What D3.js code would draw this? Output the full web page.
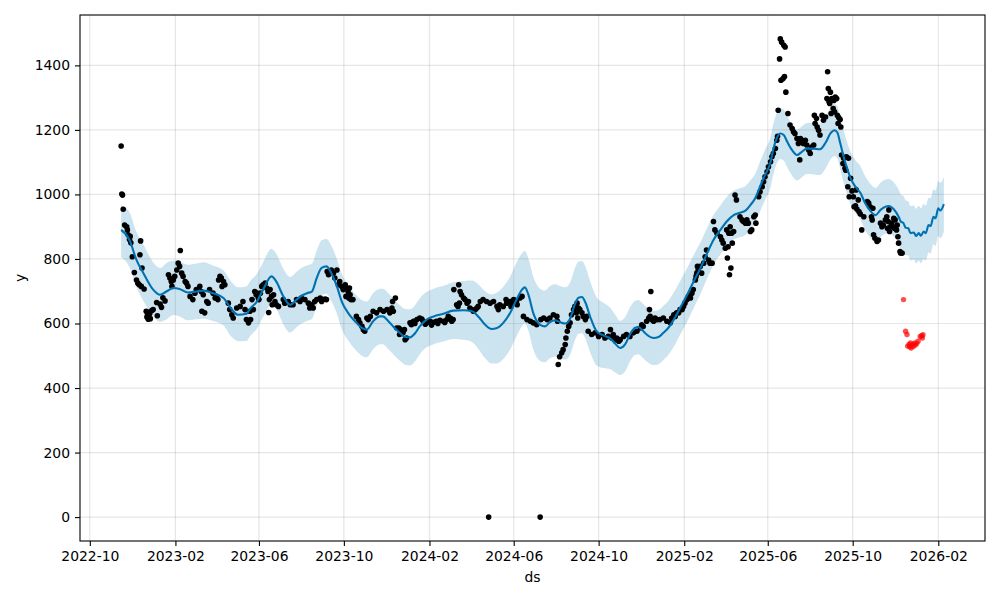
<!DOCTYPE html>
<html><head><meta charset="utf-8">
<script src="https://cdn.jsdelivr.net/npm/d3@7"></script>
<style>body{margin:0;background:#fff;} svg{display:block;font-family:"DejaVu Sans",sans-serif;}</style>
</head><body><svg id="chart" width="1000" height="600"></svg>
<script>
// ---- data ----
const xTickLabels = ["2022-10","2023-02","2023-06","2023-10","2024-02","2024-06","2024-10","2025-02","2025-06","2025-10","2026-02"];
const yTickValues = [0,200,400,600,800,1000,1200,1400];
const xLabel = "ds", yLabel = "y";

const fcDates = ["2022-11-15","2022-11-27","2022-12-07","2022-12-17","2022-12-31","2023-01-10","2023-01-19","2023-01-29","2023-02-07","2023-02-19","2023-03-03","2023-03-13","2023-03-27","2023-04-11","2023-04-23","2023-05-02","2023-05-14","2023-05-19","2023-05-29","2023-06-07","2023-06-19","2023-06-26","2023-07-06","2023-07-16","2023-07-25","2023-08-01","2023-08-09","2023-08-16","2023-08-23","2023-08-30","2023-09-06","2023-09-13","2023-09-21","2023-09-28","2023-10-07","2023-10-17","2023-10-27","2023-11-03","2023-11-12","2023-11-22","2023-11-26","2023-12-04","2023-12-13","2023-12-23","2023-12-28","2024-01-04","2024-01-11","2024-01-18","2024-01-28","2024-02-07","2024-02-21","2024-03-06","2024-03-21","2024-04-02","2024-04-11","2024-04-21","2024-04-30","2024-05-08","2024-05-17","2024-05-27","2024-06-05","2024-06-13","2024-06-17","2024-06-22","2024-06-29","2024-07-09","2024-07-16","2024-07-23","2024-07-30","2024-08-07","2024-08-14","2024-08-21","2024-08-28","2024-09-02","2024-09-07","2024-09-12","2024-09-19","2024-09-28","2024-10-08","2024-10-18","2024-10-25","2024-11-01","2024-11-08","2024-11-15","2024-11-22","2024-11-27","2024-12-02","2024-12-09","2024-12-19","2024-12-26","2025-01-02","2025-01-09","2025-01-17","2025-01-26","2025-02-05","2025-02-14","2025-02-24","2025-03-08","2025-03-15","2025-03-25","2025-04-03","2025-04-13","2025-04-22","2025-04-30","2025-05-07","2025-05-14","2025-05-21","2025-05-28","2025-06-05","2025-06-09","2025-06-14","2025-06-19","2025-06-24","2025-06-29","2025-07-06","2025-07-13","2025-07-20","2025-07-27","2025-08-06","2025-08-15","2025-08-23","2025-08-30","2025-09-05","2025-09-09","2025-09-13","2025-09-18","2025-09-23","2025-09-28","2025-10-05","2025-10-12","2025-10-19","2025-10-26","2025-11-03","2025-11-10","2025-11-17","2025-11-22","2025-11-29","2025-12-06","2025-12-09","2025-12-13","2025-12-16","2025-12-20","2025-12-23","2025-12-28","2025-12-31","2026-01-04","2026-01-07","2026-01-11","2026-01-14","2026-01-18","2026-01-21","2026-01-25","2026-01-28","2026-02-01","2026-02-04","2026-02-09"];
const fcYhat = [890,859,797,756,705,689,699,710,707,696,699,702,694,679,643,627,630,645,668,705,746,730,684,658,674,686,694,699,741,772,777,756,715,668,633,607,586,581,607,622,622,607,586,566,558,557,569,591,612,622,630,640,641,638,622,596,583,586,602,633,674,705,712,690,633,596,591,604,610,604,600,615,660,680,682,665,620,576,563,553,537,524,535,566,586,589,581,566,555,558,571,586,612,648,688,728,770,828,859,890,916,936,943,950,967,988,1025,1060,1100,1140,1175,1189,1184,1163,1137,1122,1132,1142,1142,1140,1160,1189,1199,1192,1160,1117,1081,1050,1024,1005,973,950,936,952,962,964,954,931,916,911,897,895,880,882,871,880,872,885,880,905,902,931,926,957,950,970];
const fcLower = [805,775,712,670,622,605,612,626,622,610,613,615,608,594,558,545,546,560,584,620,660,645,598,572,588,600,608,614,655,686,692,670,630,582,548,520,500,495,520,536,536,520,500,480,472,470,482,505,526,536,544,552,550,543,522,492,476,476,490,520,560,592,600,578,520,484,480,492,498,492,488,503,548,568,570,553,510,470,462,458,448,440,451,482,502,505,497,482,471,474,487,502,528,565,605,646,690,750,782,814,840,860,867,874,891,912,948,982,1022,1062,1097,1110,1105,1084,1058,1043,1053,1063,1062,1060,1080,1108,1118,1111,1079,1036,1000,968,942,922,890,866,852,868,878,880,870,847,832,827,812,811,795,798,786,795,787,800,795,820,816,846,840,872,864,885];
const fcUpper = [967,945,884,845,790,772,787,795,792,782,786,790,780,765,728,712,715,730,754,790,832,816,770,744,760,772,780,785,826,858,862,842,800,754,720,692,672,668,694,708,708,694,672,652,645,644,656,678,698,708,717,728,732,733,722,700,690,696,714,746,788,818,825,802,746,708,702,716,722,716,712,727,772,792,794,777,730,682,664,648,626,608,619,650,670,673,665,650,639,642,655,670,696,731,771,810,850,906,936,966,992,1012,1019,1026,1043,1064,1102,1138,1178,1218,1253,1268,1263,1242,1216,1201,1211,1221,1222,1220,1240,1270,1280,1273,1241,1198,1162,1132,1106,1088,1056,1034,1020,1036,1046,1048,1038,1015,1000,995,982,979,964,966,956,965,957,970,965,990,988,1016,1012,1042,1036,1055];

// observed points: [days after obsStart, value]
const obsStart = "2022-10-01";
const observed = [[45,1150],[46,1001],[47,998],[48,954],[50,905],[53,900],[54,890],[55,875],[57,860],[58,870],[59,850],[61,807],[64,758],[67,735],[69,725],[71,720],[72,813],[73,856],[74,715],[75,772],[78,707],[81,638],[82,620],[83,628],[84,613],[85,635],[86,630],[87,615],[89,640],[91,643],[96,665],[97,624],[101,660],[103,650],[105,680],[108,670],[113,751],[115,741],[117,730],[118,715],[120,735],[122,746],[125,766],[127,787],[129,777],[130,826],[132,756],[134,746],[137,730],[139,725],[141,715],[144,684],[148,674],[151,694],[153,705],[158,715],[160,699],[161,638],[163,689],[165,633],[168,668],[170,663],[172,705],[177,694],[180,679],[182,684],[184,674],[185,735],[187,746],[189,741],[190,715],[192,730],[194,720],[199,663],[201,643],[204,627],[206,617],[211,648],[216,653],[220,668],[223,643],[225,612],[228,602],[230,638],[231,612],[233,674],[235,643],[237,699],[239,689],[240,694],[242,679],[243,674],[245,694],[247,715],[249,720],[252,725],[254,710],[256,699],[257,634],[258,674],[259,705],[261,684],[262,658],[264,689],[266,668],[268,658],[271,653],[278,674],[280,663],[285,668],[288,658],[292,658],[297,674],[302,668],[304,679],[309,674],[314,663],[316,648],[319,658],[321,648],[323,668],[326,674],[331,679],[333,668],[335,674],[338,676],[340,674],[341,761],[343,751],[347,766],[350,756],[352,741],[355,766],[357,720],[359,730],[362,715],[364,705],[367,720],[368,684],[369,710],[371,699],[372,679],[373,710],[374,689],[375,674],[378,674],[383,622],[386,612],[388,602],[391,591],[393,581],[395,576],[398,617],[400,612],[403,622],[407,638],[412,633],[417,643],[422,638],[427,643],[431,633],[434,648],[435,668],[436,638],[439,679],[441,586],[444,586],[445,566],[446,581],[449,576],[450,571],[452,581],[453,550],[455,555],[460,602],[462,596],[465,607],[467,600],[470,612],[474,617],[477,614],[479,607],[482,598],[484,602],[489,607],[491,595],[494,604],[498,607],[500,600],[503,610],[508,607],[510,603],[513,612],[515,622],[518,617],[520,607],[522,612],[523,705],[527,658],[529,653],[530,720],[531,663],[532,699],[534,689],[537,679],[539,674],[542,663],[544,668],[546,648],[549,643],[551,638],[554,643],[556,648],[558,653],[561,668],[565,674],[570,668],[573,0],[575,663],[580,668],[585,653],[587,643],[589,658],[594,653],[598,674],[599,663],[604,668],[605,653],[607,663],[609,674],[613,668],[614,658],[618,679],[621,684],[623,622],[628,612],[633,607],[637,602],[642,596],[647,0],[648,612],[652,617],[657,612],[661,617],[666,627],[671,622],[672,607],[673,473],[675,497],[678,509],[680,519],[683,535],[684,555],[686,576],[688,591],[690,602],[692,627],[695,643],[697,653],[699,633],[700,663],[701,617],[702,648],[704,643],[707,633],[709,622],[712,612],[714,622],[716,576],[721,566],[726,571],[731,560],[736,566],[740,555],[745,560],[748,581],[750,555],[752,566],[755,550],[757,555],[760,545],[762,550],[767,560],[771,566],[776,560],[781,571],[786,576],[791,586],[793,596],[795,591],[800,607],[803,617],[804,643],[805,622],[806,699],[807,612],[810,607],[812,617],[815,612],[819,612],[824,617],[829,607],[834,602],[836,617],[839,627],[841,622],[843,633],[846,633],[848,643],[851,643],[853,653],[855,663],[858,674],[860,684],[863,679],[865,694],[867,705],[870,735],[871,746],[872,756],[873,777],[874,766],[877,777],[879,756],[882,787],[884,807],[886,828],[889,797],[891,787],[894,787],[896,916],[898,890],[901,880],[906,869],[908,859],[910,849],[913,833],[915,890],[916,803],[917,838],[918,880],[919,751],[920,900],[921,772],[922,880],[923,849],[925,885],[927,998],[929,983],[934,931],[937,921],[939,916],[942,911],[944,921],[946,911],[949,885],[951,890],[954,931],[956,936],[957,911],[961,993],[963,1008],[966,1024],[968,1039],[970,1055],[973,1070],[975,1086],[978,1101],[980,1117],[982,1127],[985,1142],[987,1168],[988,1180],[989,1261],[991,1420],[992,1482],[993,1354],[994,1472],[996,1359],[997,1462],[998,1365],[999,1457],[1000,1317],[1003,1251],[1006,1215],[1009,1204],[1011,1194],[1013,1189],[1016,1173],[1018,1158],[1020,1107],[1021,1173],[1023,1168],[1025,1158],[1028,1168],[1030,1153],[1033,1137],[1035,1127],[1037,1147],[1040,1153],[1041,1245],[1042,1220],[1044,1235],[1045,1209],[1047,1199],[1049,1184],[1052,1245],[1054,1230],[1057,1240],[1059,1297],[1060,1380],[1061,1328],[1062,1287],[1063,1282],[1064,1317],[1065,1251],[1066,1297],[1068,1266],[1069,1291],[1070,1256],[1071,1302],[1073,1297],[1074,1245],[1075,1220],[1076,1238],[1078,1232],[1079,1209],[1080,1122],[1082,1096],[1083,1112],[1085,1081],[1086,1075],[1087,1117],[1089,1024],[1090,1112],[1091,993],[1093,1050],[1095,1011],[1097,993],[1098,962],[1100,965],[1101,1014],[1102,955],[1104,983],[1105,947],[1107,939],[1109,890],[1112,931],[1117,978],[1119,973],[1121,962],[1123,931],[1124,921],[1125,957],[1126,875],[1128,864],[1131,854],[1133,859],[1136,911],[1138,900],[1140,905],[1143,921],[1145,931],[1146,895],[1147,916],[1148,952],[1149,885],[1150,900],[1152,911],[1154,900],[1155,926],[1156,895],[1157,921],[1159,890],[1160,905],[1161,869],[1162,849],[1164,823],[1165,818],[1167,818]];
// later actuals shown in red: [days after obsStart, value]
const redPoints = [[1169,674],[1172,576],[1174,566],[1175,530],[1177,535],[1178,528],[1179,540],[1180,524],[1182,535],[1183,529],[1185,540],[1186,533],[1188,538],[1190,545],[1193,560],[1195,562],[1196,555],[1197,565]];

// ---- chart ----
const W = 1000, H = 600;
const m = {left: 80, right: 15, top: 15, bottom: 59};
const svg = d3.select("#chart");
const parse = d3.utcParse("%Y-%m-%d");
const base = parse(obsStart);
const obs = observed.map(([d, v]) => ({date: d3.utcDay.offset(base, d), value: v}));
const red = redPoints.map(([d, v]) => ({date: d3.utcDay.offset(base, d), value: v}));
const fc = fcDates.map((s, i) => ({date: parse(s), yhat: fcYhat[i], lo: fcLower[i], hi: fcUpper[i]}));

const allT = obs.concat(red).map(d => +d.date).concat(fc.map(d => +d.date));
const t0 = d3.min(allT), t1 = d3.max(allT), tp = (t1 - t0) * 0.05;
const allV = obs.concat(red).map(d => d.value).concat(fcLower, fcUpper);
const v0 = d3.min(allV), v1 = d3.max(allV), vp = (v1 - v0) * 0.05;

const x = d3.scaleUtc().domain([new Date(t0 - tp), new Date(t1 + tp)]).range([m.left, W - m.right]);
const y = d3.scaleLinear().domain([v0 - vp, v1 + vp]).range([H - m.bottom, m.top]);

const xTicks = xTickLabels.map(s => parse(s + "-01"));

svg.append("defs").append("clipPath").attr("id", "clip")
  .append("rect").attr("x", m.left).attr("y", m.top)
  .attr("width", W - m.left - m.right).attr("height", H - m.top - m.bottom);

const plot = svg.append("g").attr("clip-path", "url(#clip)");

// uncertainty band
plot.append("path").datum(fc)
  .attr("fill", "#0072B2").attr("fill-opacity", 0.2).attr("stroke", "none")
  .attr("d", d3.area().x(d => x(d.date)).y0(d => y(d.lo)).y1(d => y(d.hi)).curve(d3.curveMonotoneX));

// grid
const grid = plot.append("g").attr("stroke", "#808080").attr("stroke-opacity", 0.2).attr("stroke-width", 1.2);
grid.selectAll(".gx").data(xTicks).join("line")
  .attr("x1", d => x(d)).attr("x2", d => x(d)).attr("y1", m.top).attr("y2", H - m.bottom);
grid.selectAll(".gy").data(yTickValues).join("line")
  .attr("y1", d => y(d)).attr("y2", d => y(d)).attr("x1", m.left).attr("x2", W - m.right);

// observed points
plot.append("g").selectAll("circle").data(obs).join("circle")
  .attr("cx", d => x(d.date)).attr("cy", d => y(d.value)).attr("r", 2.8).attr("fill", "#000");

// forecast line
plot.append("path").datum(fc)
  .attr("fill", "none").attr("stroke", "#0072B2").attr("stroke-width", 2.1)
  .attr("stroke-linejoin", "round")
  .attr("d", d3.line().x(d => x(d.date)).y(d => y(d.yhat)).curve(d3.curveMonotoneX));

// red points
plot.append("g").selectAll("circle").data(red).join("circle")
  .attr("cx", d => x(d.date)).attr("cy", d => y(d.value)).attr("r", 2.7)
  .attr("fill", "#ff0000").attr("fill-opacity", 0.7);

// axes
const fs = "13.9px";
const xAxis = svg.append("g").attr("transform", `translate(0,${H - m.bottom})`)
  .call(d3.axisBottom(x).tickValues(xTicks).tickFormat(d3.utcFormat("%Y-%m")).tickSizeInner(5).tickSizeOuter(0).tickPadding(5));
const yAxis = svg.append("g").attr("transform", `translate(${m.left},0)`)
  .call(d3.axisLeft(y).tickValues(yTickValues).tickFormat(d3.format("d")).tickSizeInner(5).tickSizeOuter(0).tickPadding(5));
[xAxis, yAxis].forEach(a => {
  a.select(".domain").remove();
  a.selectAll("line").attr("stroke", "#000").attr("stroke-width", 1.1);
  a.selectAll("text").attr("fill", "#000").style("font-size", fs).style("font-family", "'DejaVu Sans', sans-serif");
});

svg.append("rect").attr("x", m.left).attr("y", m.top)
  .attr("width", W - m.left - m.right).attr("height", H - m.top - m.bottom)
  .attr("fill", "none").attr("stroke", "#000").attr("stroke-width", 1.1);

svg.append("text").attr("x", (m.left + W - m.right) / 2).attr("y", 582)
  .attr("text-anchor", "middle").style("font-size", fs).text(xLabel);
svg.append("text").attr("transform", `translate(25,${(m.top + H - m.bottom) / 2}) rotate(-90)`)
  .attr("text-anchor", "middle").style("font-size", fs).text(yLabel);
</script></body></html>
